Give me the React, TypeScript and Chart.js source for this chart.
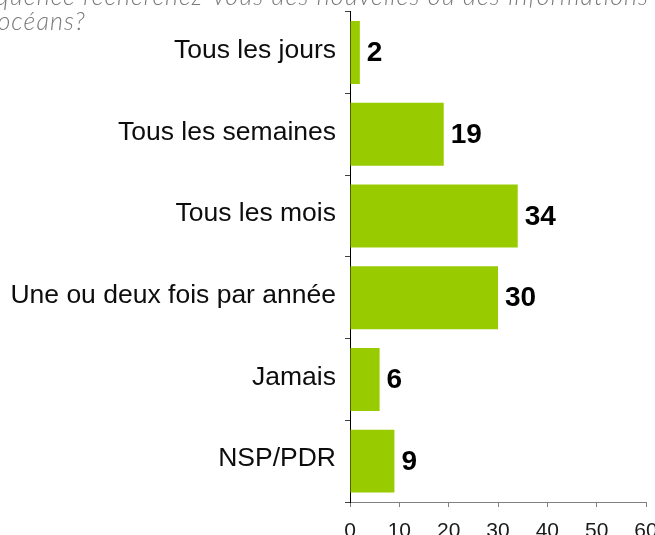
import React, { useEffect, useRef } from "react";
import { Chart, registerables } from "chart.js";

Chart.register(...registerables);

const titleLine1 = "À quelle fréquence recherchez-vous des nouvelles ou des informations";
const titleLine2 = "sur les océans?";
const categories = [
  "Tous les jours",
  "Tous les semaines",
  "Tous les mois",
  "Une ou deux fois par année",
  "Jamais",
  "NSP/PDR",
];
const values = [2, 19, 34, 30, 6, 9];
const xTicks = [0, 10, 20, 30, 40, 50, 60];

const dataLabelPlugin = {
  id: "dataLabels",
  afterDatasetsDraw(chart: any) {
    const ctx = chart.ctx;
    const meta = chart.getDatasetMeta(0);
    ctx.save();
    ctx.font = "bold 28px 'Liberation Sans', Arial, sans-serif";
    ctx.fillStyle = "#000000";
    ctx.textAlign = "left";
    ctx.textBaseline = "middle";
    meta.data.forEach((bar: any, i: number) => {
      ctx.fillText(String(values[i]), bar.x + 7, bar.y + 1);
    });
    ctx.restore();
  },
};

export default function App() {
  const ref = useRef<HTMLCanvasElement | null>(null);

  useEffect(() => {
    document.body.style.margin = "0";
    document.body.style.overflow = "hidden";
    if (!ref.current) return;
    const chart = new Chart(ref.current, {
      type: "bar",
      data: {
        labels: categories,
        datasets: [
          {
            data: values,
            backgroundColor: "#99cc00",
            borderWidth: 0,
            categoryPercentage: 1,
            barPercentage: 0.77,
          },
        ],
      },
      options: {
        indexAxis: "y",
        responsive: false,
        animation: false,
        layout: { padding: { top: 11, right: 54, left: 0, bottom: 0 } },
        plugins: {
          legend: { display: false },
          tooltip: { enabled: false },
          title: { display: false },
        },
        scales: {
          x: {
            min: xTicks[0],
            max: xTicks[xTicks.length - 1],
            afterBuildTicks: (scale: any) => {
              scale.ticks = xTicks.map((v) => ({ value: v }));
            },
            afterFit: (scale: any) => {
              scale.height = 58;
            },
            grid: {
              drawOnChartArea: false,
              drawTicks: true,
              tickLength: 5,
              color: "#808080",
            },
            border: { color: "#808080", width: 1 },
            ticks: {
              padding: 12,
              color: "#1a1a1a",
              font: { family: "'Liberation Sans', Arial, sans-serif", size: 21 },
              maxRotation: 0,
              autoSkip: false,
            },
          },
          y: {
            afterFit: (scale: any) => {
              scale.width = 350;
            },
            grid: {
              drawOnChartArea: false,
              drawTicks: true,
              tickLength: 5,
              color: "#404040",
              offset: true,
            },
            border: { color: "#000000", width: 1 },
            ticks: {
              padding: 9,
              labelOffset: -2,
              color: "#0d0d0d",
              font: { family: "'Liberation Sans', Arial, sans-serif", size: 26.5, lineHeight: 0.2 },
              autoSkip: false,
            },
          },
        },
      },
      plugins: [dataLabelPlugin],
    });
    return () => chart.destroy();
  }, []);

  const titleStyle: React.CSSProperties = {
    position: "absolute",
    whiteSpace: "nowrap",
    fontFamily: "Lato, 'Open Sans', sans-serif",
    fontStyle: "italic",
    fontWeight: 300,
    fontSize: "25px",
    lineHeight: "30px",
    letterSpacing: "1.1px",
    color: "#7a7a7a",
    textAlign: "right",
  };

  return (
    <div
      style={{
        position: "relative",
        width: 655,
        height: 535,
        overflow: "hidden",
        background: "#ffffff",
      }}
    >
      <canvas
        ref={ref}
        width={700}
        height={560}
        style={{ position: "absolute", left: 0, top: 0, width: 700, height: 560 }}
      />
      <div style={{ ...titleStyle, right: 6, top: -20 }}>{titleLine1}</div>
      <div style={{ ...titleStyle, right: 569, top: 5 }}>{titleLine2}</div>
    </div>
  );
}
